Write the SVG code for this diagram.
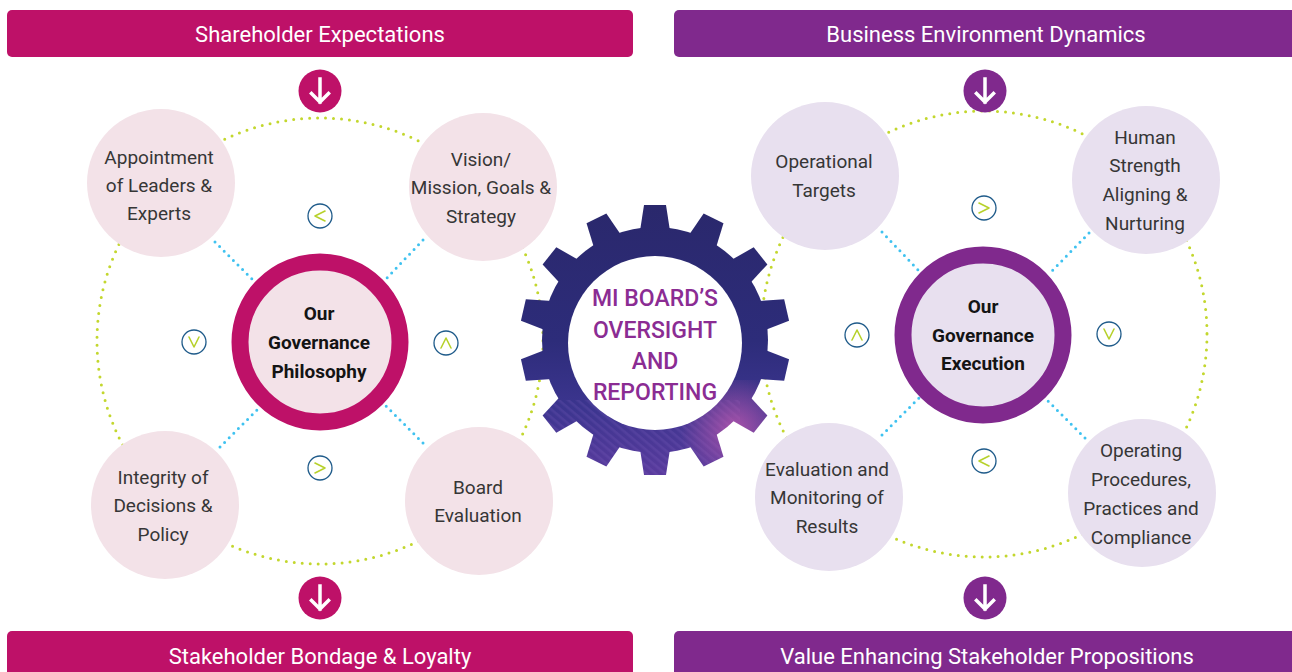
<svg xmlns="http://www.w3.org/2000/svg" xmlns:xlink="http://www.w3.org/1999/xlink" width="1292" height="672" viewBox="0 0 1292 672">
  <style>
    .banner-text { font-family: Roboto, "Liberation Sans", sans-serif; font-size: 22px; fill: #ffffff; text-anchor: middle; }
    .sat-text { font-family: Roboto, "Liberation Sans", sans-serif; font-size: 19px; fill: #363636; text-anchor: middle; }
    .core-text { font-family: Roboto, "Liberation Sans", sans-serif; font-size: 19px; font-weight: 700; fill: #141414; text-anchor: middle; }
    .gear-text { font-family: Roboto, "Liberation Sans", sans-serif; font-size: 23px; font-weight: 500; fill: #8B2C93; text-anchor: middle; }
    .orbit { fill: none; stroke: #C3D72E; stroke-width: 3; stroke-linecap: round; stroke-dasharray: 0 8; }
    .link { fill: none; stroke: #3FC2F0; stroke-width: 3; stroke-linecap: round; stroke-dasharray: 0 6.5; }
    .sat-l { fill: #F3E2E8; }
    .sat-r { fill: #E8E0EF; }
    .chev-ring { fill: #ffffff; stroke: #1F5B8A; stroke-width: 1.3; }
    .chev { fill: none; stroke: #B7D12C; stroke-width: 1.6; stroke-linecap: round; stroke-linejoin: round; }
    .down { fill: none; stroke: #ffffff; stroke-width: 3.5; stroke-linecap: square; }
    .mag { fill: #BE1168; }
    .pur { fill: #80298D; }
  </style>
  <defs>
    <linearGradient id="gearFill" x1="0" y1="205" x2="0" y2="477" gradientUnits="userSpaceOnUse">
      <stop offset="0" stop-color="#2A286C"/>
      <stop offset="0.5" stop-color="#2D2C7A"/>
      <stop offset="0.75" stop-color="#3C358F"/>
      <stop offset="1" stop-color="#5A3B9E"/>
    </linearGradient>
    <radialGradient id="gearGlow" cx="735" cy="428" r="55" gradientUnits="userSpaceOnUse">
      <stop offset="0" stop-color="#C65AB0" stop-opacity="0.75"/>
      <stop offset="1" stop-color="#C65AB0" stop-opacity="0"/>
    </radialGradient>
    <pattern id="streaks" width="6" height="6" patternUnits="userSpaceOnUse" patternTransform="rotate(40)">
      <rect width="6" height="2.5" fill="#8C6CC8" fill-opacity="0.18"/>
    </pattern>
    <polygon id="tooth" points="640,231 644,205 666,205 670,231"/>
    <mask id="gearMask" maskUnits="userSpaceOnUse" x="500" y="190" width="310" height="300">
      <g fill="#ffffff">
        <circle cx="655" cy="340" r="113"/>
        <use xlink:href="#tooth"/>
        <use xlink:href="#tooth" transform="rotate(25.714 655 340)"/>
        <use xlink:href="#tooth" transform="rotate(51.429 655 340)"/>
        <use xlink:href="#tooth" transform="rotate(77.143 655 340)"/>
        <use xlink:href="#tooth" transform="rotate(102.857 655 340)"/>
        <use xlink:href="#tooth" transform="rotate(128.571 655 340)"/>
        <use xlink:href="#tooth" transform="rotate(154.286 655 340)"/>
        <use xlink:href="#tooth" transform="rotate(180 655 340)"/>
        <use xlink:href="#tooth" transform="rotate(205.714 655 340)"/>
        <use xlink:href="#tooth" transform="rotate(231.429 655 340)"/>
        <use xlink:href="#tooth" transform="rotate(257.143 655 340)"/>
        <use xlink:href="#tooth" transform="rotate(282.857 655 340)"/>
        <use xlink:href="#tooth" transform="rotate(308.571 655 340)"/>
        <use xlink:href="#tooth" transform="rotate(334.286 655 340)"/>
      </g>
      <circle cx="655" cy="343" r="87" fill="#000000"/>
    </mask>
    <g id="downArrow">
      <path class="down" d="M0 -12 V11 M-8.5 2.5 L0 11 L8.5 2.5"/>
    </g>
  </defs>

  <!-- header and footer banners -->
  <g id="banner-shareholder">
    <rect class="mag" x="7" y="10" width="626" height="47" rx="5"/>
    <text class="banner-text" x="320" y="42">Shareholder Expectations</text>
  </g>
  <g id="banner-business">
    <rect class="pur" x="674" y="10" width="640" height="47" rx="5"/>
    <text class="banner-text" x="986" y="42">Business Environment Dynamics</text>
  </g>
  <g id="banner-stakeholder">
    <rect class="mag" x="7" y="631" width="626" height="60" rx="5"/>
    <text class="banner-text" x="320" y="664">Stakeholder Bondage &amp; Loyalty</text>
  </g>
  <g id="banner-value">
    <rect class="pur" x="674" y="631" width="640" height="60" rx="5"/>
    <text class="banner-text" x="987" y="664">Value Enhancing Stakeholder Propositions</text>
  </g>

  <!-- connectors: orbit rings and spokes -->
  <g id="connectors">
    <circle class="orbit" cx="320" cy="341" r="223"/>
    <circle class="orbit" cx="984" cy="334" r="223"/>
    <path class="link" d="M215 242 L255 282"/>
    <path class="link" d="M423 240 L385 280"/>
    <path class="link" d="M220 447 L260 407"/>
    <path class="link" d="M423 443 L385 405"/>
    <path class="link" d="M882 232 L920 272"/>
    <path class="link" d="M1089 233 L1050 273"/>
    <path class="link" d="M882 435 L920 397"/>
    <path class="link" d="M1085 438 L1045 398"/>
  </g>

  <!-- flow arrows -->
  <g id="arrow-top-left" transform="translate(320 91)">
    <circle class="mag" r="21.5"/>
    <use xlink:href="#downArrow"/>
  </g>
  <g id="arrow-bottom-left" transform="translate(320 598)">
    <circle class="mag" r="21.5"/>
    <use xlink:href="#downArrow"/>
  </g>
  <g id="arrow-top-right" transform="translate(985 91)">
    <circle class="pur" r="21.5"/>
    <use xlink:href="#downArrow"/>
  </g>
  <g id="arrow-bottom-right" transform="translate(985 598)">
    <circle class="pur" r="21.5"/>
    <use xlink:href="#downArrow"/>
  </g>

  <!-- governance philosophy cluster -->
  <g id="node-appointment">
    <circle class="sat-l" cx="161" cy="183" r="74"/>
    <text class="sat-text"><tspan x="159" y="164">Appointment</tspan><tspan x="159" y="192">of Leaders &amp;</tspan><tspan x="159" y="220">Experts</tspan></text>
  </g>
  <g id="node-vision">
    <circle class="sat-l" cx="483" cy="187" r="74"/>
    <text class="sat-text"><tspan x="481" y="166">Vision/</tspan><tspan x="481" y="194">Mission, Goals &amp;</tspan><tspan x="481" y="223">Strategy</tspan></text>
  </g>
  <g id="node-integrity">
    <circle class="sat-l" cx="165" cy="505" r="74"/>
    <text class="sat-text"><tspan x="163" y="484">Integrity of</tspan><tspan x="163" y="512">Decisions &amp;</tspan><tspan x="163" y="541">Policy</tspan></text>
  </g>
  <g id="node-board-evaluation">
    <circle class="sat-l" cx="479" cy="501" r="74"/>
    <text class="sat-text"><tspan x="478" y="494">Board</tspan><tspan x="478" y="522">Evaluation</tspan></text>
  </g>
  <g id="node-philosophy">
    <circle cx="320" cy="342" r="80" fill="#F3E2E8" stroke="#BE1168" stroke-width="17"/>
    <text class="core-text"><tspan x="319" y="320">Our</tspan><tspan x="319" y="349">Governance</tspan><tspan x="319" y="378">Philosophy</tspan></text>
  </g>
  <g id="chevrons-left">
    <circle class="chev-ring" cx="320" cy="216" r="12"/>
    <path class="chev" d="M325 211 L315 216 L325 221"/>
    <circle class="chev-ring" cx="194" cy="342" r="12"/>
    <path class="chev" d="M189 337 L194 347 L199 337"/>
    <circle class="chev-ring" cx="446" cy="343" r="12"/>
    <path class="chev" d="M441 348 L446 338 L451 348"/>
    <circle class="chev-ring" cx="320" cy="468" r="12"/>
    <path class="chev" d="M315 463 L325 468 L315 473"/>
  </g>

  <!-- governance execution cluster -->
  <g id="node-operational-targets">
    <circle class="sat-r" cx="825" cy="176" r="74"/>
    <text class="sat-text"><tspan x="824" y="168">Operational</tspan><tspan x="824" y="197">Targets</tspan></text>
  </g>
  <g id="node-human-strength">
    <circle class="sat-r" cx="1146" cy="180" r="74"/>
    <text class="sat-text"><tspan x="1145" y="144">Human</tspan><tspan x="1145" y="172">Strength</tspan><tspan x="1145" y="201">Aligning &amp;</tspan><tspan x="1145" y="230">Nurturing</tspan></text>
  </g>
  <g id="node-evaluation-monitoring">
    <circle class="sat-r" cx="829" cy="497" r="74"/>
    <text class="sat-text"><tspan x="827" y="476">Evaluation and</tspan><tspan x="827" y="504">Monitoring of</tspan><tspan x="827" y="533">Results</tspan></text>
  </g>
  <g id="node-operating-procedures">
    <circle class="sat-r" cx="1142" cy="493" r="74"/>
    <text class="sat-text"><tspan x="1141" y="457">Operating</tspan><tspan x="1141" y="486">Procedures,</tspan><tspan x="1141" y="515">Practices and</tspan><tspan x="1141" y="544">Compliance</tspan></text>
  </g>
  <g id="node-execution">
    <circle cx="983" cy="335" r="80" fill="#E8E0EF" stroke="#80298D" stroke-width="17"/>
    <text class="core-text"><tspan x="983" y="313">Our</tspan><tspan x="983" y="342">Governance</tspan><tspan x="983" y="370">Execution</tspan></text>
  </g>
  <g id="chevrons-right">
    <circle class="chev-ring" cx="984" cy="208" r="12"/>
    <path class="chev" d="M979 203 L989 208 L979 213"/>
    <circle class="chev-ring" cx="857" cy="335" r="12"/>
    <path class="chev" d="M852 340 L857 330 L862 340"/>
    <circle class="chev-ring" cx="1109" cy="334" r="12"/>
    <path class="chev" d="M1104 329 L1109 339 L1114 329"/>
    <circle class="chev-ring" cx="984" cy="461" r="12"/>
    <path class="chev" d="M989 456 L979 461 L989 466"/>
  </g>

  <!-- central board gear -->
  <g id="node-board-oversight">
    <g mask="url(#gearMask)">
      <rect x="500" y="190" width="310" height="300" fill="url(#gearFill)"/>
      <rect x="540" y="400" width="200" height="90" fill="url(#streaks)"/>
      <rect x="660" y="380" width="150" height="100" fill="url(#gearGlow)"/>
    </g>
    <text class="gear-text"><tspan x="655" y="306">MI BOARD’S</tspan><tspan x="655" y="338">OVERSIGHT</tspan><tspan x="655" y="369">AND</tspan><tspan x="655" y="400">REPORTING</tspan></text>
  </g>
</svg>
